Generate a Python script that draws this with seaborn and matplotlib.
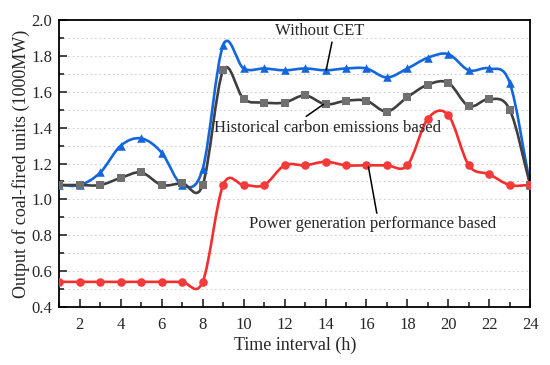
import numpy as np
import pandas as pd
import seaborn as sns
import matplotlib.pyplot as plt
from matplotlib.path import Path
from matplotlib.patches import PathPatch
from matplotlib.ticker import MultipleLocator

sns.set_style("ticks")
plt.rcParams["font.family"] = ["Liberation Serif", "DejaVu Serif"]

# data
hours = list(range(1, 25))
without_cet = [1.08, 1.08, 1.15, 1.30, 1.34, 1.26, 1.08, 1.17, 1.86, 1.73, 1.73, 1.72,
               1.73, 1.72, 1.73, 1.73, 1.68, 1.73, 1.79, 1.81, 1.72, 1.73, 1.65, 1.08]
historical = [1.08, 1.08, 1.08, 1.12, 1.15, 1.08, 1.09, 1.08, 1.72, 1.56, 1.54, 1.54,
              1.58, 1.53, 1.55, 1.55, 1.49, 1.57, 1.64, 1.65, 1.52, 1.56, 1.50, 1.08]
performance = [0.54, 0.54, 0.54, 0.54, 0.54, 0.54, 0.54, 0.54, 1.08, 1.08, 1.08, 1.19,
               1.19, 1.21, 1.19, 1.19, 1.19, 1.19, 1.45, 1.47, 1.19, 1.14, 1.08, 1.08]

series = [
    ("Without CET", without_cet, "#1466dc", "#1466dc", "^"),
    ("Historical carbon emissions based", historical, "#3f3f3f", "#707070", "s"),
    ("Power generation performance based", performance, "#f52d2d", "#f53a3a", "o"),
]


def smooth_path(x, y):
    # Catmull-Rom style cubic Bezier through the points
    x = np.asarray(x, float)
    y = np.asarray(y, float)
    m = np.gradient(y, x)
    verts = [(x[0], y[0])]
    codes = [Path.MOVETO]
    for i in range(len(x) - 1):
        dx = x[i + 1] - x[i]
        verts += [(x[i] + dx / 3, y[i] + m[i] * dx / 3),
                  (x[i + 1] - dx / 3, y[i + 1] - m[i + 1] * dx / 3),
                  (x[i + 1], y[i + 1])]
        codes += [Path.CURVE4] * 3
    return Path(verts, codes)


fig = plt.figure(figsize=(5.5, 3.65), dpi=100)
ax = fig.add_axes([0.108, 0.159, 0.856, 0.786])

for name, vals, lc, mc, mk in series:
    ax.add_patch(PathPatch(smooth_path(hours, vals), facecolor="none",
                           edgecolor=lc, lw=1.9, zorder=2))
    df = pd.DataFrame({"hour": hours, "value": vals})
    sns.scatterplot(data=df, x="hour", y="value", marker=mk, color=mc,
                    s=38, edgecolor=mc, linewidth=0, ax=ax, zorder=3)

ax.set_xlim(1, 24)
ax.set_ylim(0.4, 2.0)
ax.xaxis.set_major_locator(MultipleLocator(2))
ax.xaxis.set_minor_locator(MultipleLocator(1))
ax.yaxis.set_major_locator(MultipleLocator(0.2))
ax.yaxis.set_minor_locator(MultipleLocator(0.1))
ax.set_yticks(np.arange(0.4, 2.01, 0.2))
ax.set_yticklabels([f"{v:.1f}" for v in np.arange(0.4, 2.01, 0.2)])
ax.tick_params(which="major", direction="in", length=6, width=1.2, labelsize=12,
               top=False, right=False)
ax.tick_params(axis="x", which="major", pad=7)
ax.tick_params(axis="y", which="major", pad=5)
ax.tick_params(which="minor", direction="in", length=3.5, width=1.2,
               top=False, right=False)
ax.grid(axis="y", which="both", color="#cfcfcf", linestyle=(0, (1.5, 2.5)), lw=0.8)
for sp in ax.spines.values():
    sp.set_linewidth(1.3)
    sp.set_color("black")

ax.set_xlabel("Time interval (h)", fontsize=13, labelpad=3)
ax.set_ylabel("Output of coal-fired units (1000MW)", fontsize=13, labelpad=1)

ax.annotate("Without CET", xy=(14.03, 1.72), xytext=(13.7, 1.94),
            ha="center", va="center", fontsize=12,
            arrowprops=dict(arrowstyle="-", color="black", lw=1.1, shrinkA=0, shrinkB=0,
                            relpos=(0.66, 0.3)))
ax.annotate("Historical carbon emissions based", xy=(13.9, 1.53), xytext=(14.1, 1.40),
            ha="center", va="center", fontsize=12,
            arrowprops=dict(arrowstyle="-", color="black", lw=1.1, shrinkA=0, shrinkB=0,
                            relpos=(0.37, 0.85)))
ax.annotate("Power generation performance based", xy=(16.1, 1.18), xytext=(16.3, 0.86),
            ha="center", va="center", fontsize=12,
            arrowprops=dict(arrowstyle="-", color="black", lw=1.1, shrinkA=0, shrinkB=0,
                            relpos=(0.52, 0.95)))

fig.savefig("out.png", dpi=100)
plt.close(fig)
